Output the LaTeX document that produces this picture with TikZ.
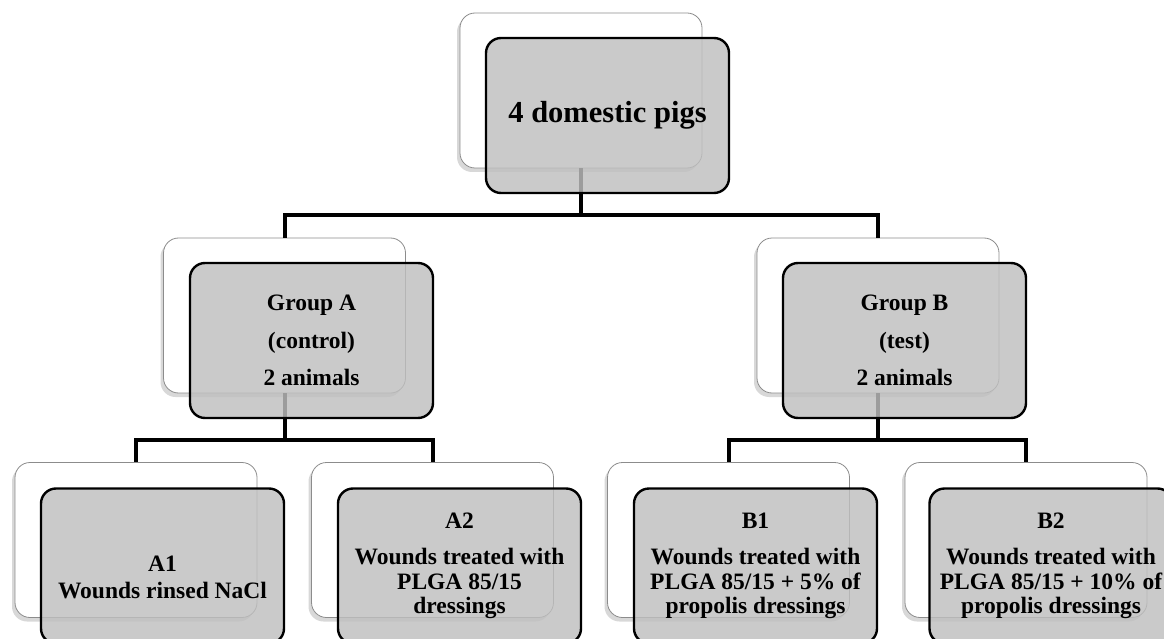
\documentclass[tikz,border=0pt]{standalone}
\usepackage{fontspec}
\setmainfont{Liberation Serif}
\usetikzlibrary{shadows}
\begin{document}
\begin{tikzpicture}[x=1pt,y=-1pt,
  back/.style={draw=black!45, line width=0.8pt, fill=white, rounded corners=15pt,
    minimum width=242pt, minimum height=155pt, inner sep=0pt,
    drop shadow={shadow xshift=-3pt, shadow yshift=-4pt, opacity=0.3}},
  front/.style={draw=black, line width=2.4pt, fill=black!25, fill opacity=0.82, text opacity=1,
    rounded corners=15pt, minimum width=243pt, minimum height=155pt, inner sep=0pt,
    align=center, font=\bfseries},
  topfont/.style={font=\bfseries\fontsize{30.5}{36}\selectfont},
  grpfont/.style={font=\bfseries\fontsize{23.5}{37.5}\selectfont},
  leaffont/.style={font=\bfseries\fontsize{23.5}{24.5}\selectfont},
  link/.style={line width=4pt}]
\clip (0,0) rectangle (1164,639);
\fill[white] (0,0) rectangle (1164,639);
% background cards
\node[back] (topB) at (581,90.5) {};
\node[back] (gAB) at (284.5,315.5) {};
\node[back] (gBB) at (878,315.5) {};
\node[back] (a1B) at (136,540) {};
\node[back] (a2B) at (432.5,540) {};
\node[back] (b1B) at (728.5,540) {};
\node[back] (b2B) at (1026,540) {};
% connectors
\coordinate (bar1) at (0,215);
\coordinate (bar2) at (0,440);
\draw[link] (topB.south) -- (topB.south |- bar1) -| (gAB.north);
\draw[link] (topB.south |- bar1) -| (gBB.north);
\draw[link] (gAB.south) -- (gAB.south |- bar2) -| (a1B.north);
\draw[link] (gAB.south |- bar2) -| (a2B.north);
\draw[link] (gBB.south) -- (gBB.south |- bar2) -| (b1B.north);
\draw[link] (gBB.south |- bar2) -| (b2B.north);
% front cards
\node[front, topfont] (top) at (607.5,115.5) {4 domestic pigs};
\node[front, grpfont] (gA) at (311.5,340.5) {Group A\\(control)\\2 animals};
\node[front, grpfont] (gB) at (904.5,340.5) {Group B\\(test)\\2 animals};
\node[front] (a1) at (162.5,566) {};
\node[leaffont, align=center, inner sep=0pt] (a1t) at (162.5,577) {A1\\[2.5pt]Wounds rinsed NaCl};
\node[front, leaffont] (a2) at (459.5,566) {A2\\[11.5pt]Wounds treated with\\PLGA 85/15\\dressings};
\node[front, leaffont] (b1) at (755.5,566) {B1\\[11.5pt]Wounds treated with\\PLGA 85/15 + 5\% of\\propolis dressings};
\node[front, leaffont] (b2) at (1051,566) {B2\\[11.5pt]Wounds treated with\\PLGA 85/15 + 10\% of\\propolis dressings};
\end{tikzpicture}
\end{document}
